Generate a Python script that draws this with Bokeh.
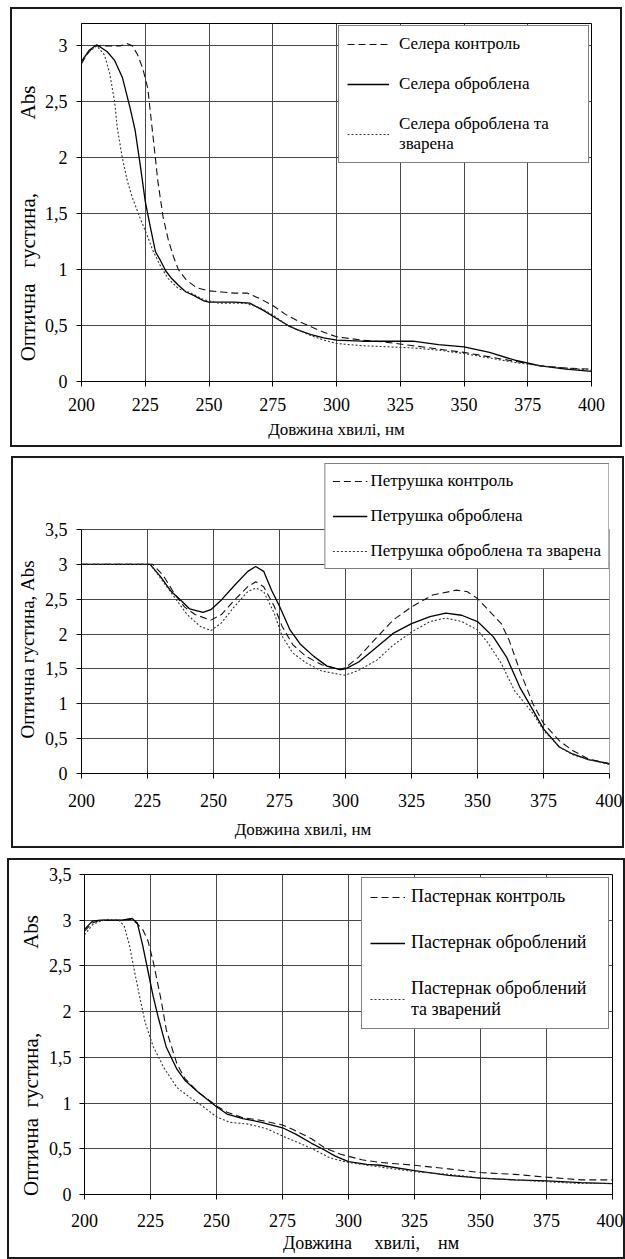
from bokeh.plotting import figure
from bokeh.models import FixedTicker, Legend, LegendItem, Range1d
from bokeh.embed import file_html
from bokeh.resources import INLINE

FONT = "Liberation Serif"
NB = "\u00a0"

# ---------------- shared axis data ----------------
x_ticks = [200, 225, 250, 275, 300, 325, 350, 375, 400]
x_tick_labels = ["200", "225", "250", "275", "300", "325", "350", "375", "400"]
y_ticks_a = [0, 0.5, 1, 1.5, 2, 2.5, 3]
y_tick_labels_a = ["0", "0,5", "1", "1,5", "2", "2,5", "3"]
y_ticks_b = [0, 0.5, 1, 1.5, 2, 2.5, 3, 3.5]
y_tick_labels_b = ["0", "0,5", "1", "1,5", "2", "2,5", "3", "3,5"]

# ---------------- panel 1: Селера ----------------
cel_labels = ["Селера контроль", "Селера оброблена", "Селера оброблена та\nзварена"]
cel_ctrl_x = [200, 202, 205, 210, 215, 218, 220, 222, 224, 226, 228, 230, 232, 234, 236, 238, 241, 245, 250,
              255, 260, 265, 270, 275, 280, 285, 290, 295, 300, 310, 320, 330, 340, 350, 360, 370, 380, 390, 400]
cel_ctrl_y = [2.84, 2.92, 3.00, 3.00, 3.00, 3.02, 3.00, 2.92, 2.80, 2.62, 2.20, 1.78, 1.47, 1.27, 1.12, 1.00, 0.91, 0.84, 0.81,
              0.80, 0.79, 0.79, 0.74, 0.68, 0.60, 0.54, 0.49, 0.44, 0.40, 0.37, 0.35, 0.32, 0.29, 0.26, 0.22, 0.18, 0.14, 0.12, 0.11]
cel_proc_x = [200, 203, 206, 210, 213, 216, 219, 221, 223, 225, 227, 229, 231, 233, 235, 238, 241, 244, 248, 250,
              255, 260, 266, 271, 276, 281, 285, 290, 295, 300, 310, 320, 330, 340, 350, 360, 370, 380, 390, 400]
cel_proc_y = [2.86, 2.96, 3.01, 2.95, 2.87, 2.72, 2.45, 2.25, 1.94, 1.61, 1.38, 1.16, 1.08, 0.99, 0.93, 0.86, 0.80, 0.77, 0.72, 0.71,
              0.71, 0.71, 0.70, 0.64, 0.57, 0.50, 0.46, 0.42, 0.39, 0.37, 0.36, 0.36, 0.36, 0.33, 0.31, 0.26, 0.19, 0.14, 0.11, 0.09]
cel_cook_x = [200, 203, 206, 209, 211, 213, 214, 216, 218, 220, 223, 226, 228, 231, 234, 238, 243, 248, 254,
              260, 264, 270, 276, 281, 285, 290, 295, 300, 310, 320, 330, 340, 350, 360, 370, 380, 390, 400]
cel_cook_y = [2.86, 2.95, 3.00, 2.92, 2.76, 2.50, 2.27, 2.00, 1.79, 1.64, 1.46, 1.29, 1.17, 1.03, 0.92, 0.83, 0.79, 0.73, 0.70,
              0.70, 0.70, 0.66, 0.58, 0.50, 0.46, 0.41, 0.37, 0.34, 0.32, 0.31, 0.30, 0.28, 0.25, 0.21, 0.17, 0.14, 0.12, 0.10]

# ---------------- panel 2: Петрушка ----------------
pet_labels = ["Петрушка контроль", "Петрушка оброблена", "Петрушка оброблена та зварена"]
pet_ctrl_x = [200, 210, 220, 227, 231, 235, 239, 243, 249, 253, 258, 263, 266, 269, 273, 276, 280, 285, 291, 298,
              300, 305, 312, 318, 325, 333, 342, 346, 350, 354, 359, 362, 366, 371, 375, 381, 386, 392, 400]
pet_ctrl_y = [3.00, 3.00, 3.00, 3.00, 2.84, 2.59, 2.39, 2.28, 2.20, 2.28, 2.49, 2.68, 2.75, 2.68, 2.40, 2.11, 1.85, 1.68, 1.56, 1.49,
              1.52, 1.67, 1.96, 2.20, 2.39, 2.56, 2.63, 2.61, 2.51, 2.35, 2.15, 1.91, 1.48, 1.00, 0.72, 0.47, 0.33, 0.21, 0.14]
pet_proc_x = [200, 210, 220, 226, 230, 234, 238, 241, 246, 249, 253, 258, 263, 266, 269, 272, 275, 279, 283, 288,
              293, 298, 300, 305, 312, 318, 325, 332, 338, 344, 350, 356, 361, 366, 371, 375, 381, 386, 392, 400]
pet_proc_y = [3.00, 3.00, 3.00, 3.00, 2.82, 2.61, 2.47, 2.36, 2.31, 2.35, 2.49, 2.70, 2.90, 2.97, 2.90, 2.63, 2.40, 2.06, 1.85, 1.68,
              1.54, 1.49, 1.50, 1.60, 1.82, 2.01, 2.15, 2.25, 2.30, 2.27, 2.18, 1.96, 1.67, 1.24, 0.91, 0.64, 0.38, 0.28, 0.20, 0.14]
pet_cook_x = [200, 210, 220, 226, 230, 235, 240, 245, 249, 253, 258, 263, 266, 269, 273, 276, 280, 285, 291,
              298, 300, 305, 312, 318, 325, 332, 338, 344, 350, 354, 359, 364, 371, 375, 381, 386, 392, 400]
pet_cook_y = [3.00, 3.00, 3.00, 3.00, 2.80, 2.54, 2.28, 2.11, 2.05, 2.16, 2.40, 2.61, 2.66, 2.61, 2.30, 1.97, 1.73, 1.59, 1.47,
              1.42, 1.41, 1.48, 1.63, 1.84, 2.03, 2.18, 2.23, 2.18, 2.06, 1.87, 1.58, 1.19, 0.86, 0.62, 0.38, 0.27, 0.20, 0.13]

# ---------------- panel 3: Пастернак ----------------
pas_labels = ["Пастернак контроль", "Пастернак оброблений", "Пастернак оброблений\nта зварений"]
pas_ctrl_x = [200, 203, 206, 210, 214, 218, 220, 222, 224, 226, 229, 231, 235, 238, 243, 250, 254, 260, 267,
              275, 279, 286, 291, 297, 305, 312, 325, 338, 350, 363, 375, 388, 400]
pas_ctrl_y = [2.88, 2.97, 3.00, 3.00, 3.00, 3.01, 2.96, 2.90, 2.78, 2.55, 2.13, 1.80, 1.43, 1.27, 1.12, 0.97, 0.90, 0.84, 0.81,
              0.76, 0.71, 0.61, 0.51, 0.44, 0.38, 0.35, 0.32, 0.28, 0.24, 0.22, 0.19, 0.16, 0.16]
pas_proc_x = [200, 203, 206, 210, 214, 218, 220, 222, 224, 226, 228, 231, 235, 238, 243, 250, 254, 260, 267,
              275, 280, 286, 290, 295, 300, 307, 312, 325, 338, 350, 363, 375, 388, 400]
pas_proc_y = [2.90, 2.99, 3.00, 3.00, 3.00, 3.02, 2.97, 2.73, 2.45, 2.17, 1.93, 1.61, 1.37, 1.25, 1.12, 0.96, 0.88, 0.83, 0.79,
              0.73, 0.66, 0.56, 0.50, 0.42, 0.36, 0.33, 0.32, 0.26, 0.21, 0.18, 0.16, 0.15, 0.13, 0.12]
pas_cook_x = [200, 203, 206, 209, 213, 215, 217, 219, 221, 223, 226, 230, 235, 240, 245, 250, 255, 262, 269,
              275, 280, 287, 293, 300, 312, 325, 338, 350, 363, 375, 388, 400]
pas_cook_y = [2.84, 2.95, 2.99, 3.01, 3.00, 2.94, 2.73, 2.43, 2.15, 1.88, 1.62, 1.39, 1.17, 1.06, 0.96, 0.85, 0.79, 0.77, 0.72,
              0.64, 0.58, 0.49, 0.40, 0.35, 0.30, 0.25, 0.22, 0.18, 0.16, 0.14, 0.12, 0.12]

x_title = "Довжина хвилі, нм"
y_title = "Оптична густина, Abs"

GRID = "#474747"
LINE_STYLES = [dict(line_dash="7 4", line_color="#111111", line_width=1.1),
               dict(line_dash="solid", line_color="#000000", line_width=1.3),
               dict(line_dash="2 2", line_color="#333333", line_width=1.1)]
PANEL_BORDER = {"border": "2px solid #1a1a1a", "box-sizing": "border-box"}


def make_panel(width, height, margin, borders, y_end, yticks, ylabels, xlabel, ylabel,
               tick_size, xl_size, yl_size, x_std, xl_std, y_std, yl_std):
    left, right, top, bottom = borders
    p = figure(width=width, height=height, margin=margin,
               x_range=Range1d(200, 400), y_range=Range1d(0, y_end),
               output_backend="svg", toolbar_location=None,
               min_border_left=left, min_border_right=right,
               min_border_top=top, min_border_bottom=bottom,
               background_fill_color="white", border_fill_color="white")
    p.styles = dict(PANEL_BORDER)
    p.outline_line_color = "black"
    p.outline_line_width = 1

    p.xaxis.ticker = FixedTicker(ticks=x_ticks)
    p.xaxis.major_label_overrides = dict(zip(x_ticks, x_tick_labels))
    p.yaxis.ticker = FixedTicker(ticks=yticks)
    p.yaxis.major_label_overrides = dict(zip(yticks, ylabels))
    p.xgrid.ticker = FixedTicker(ticks=x_ticks)
    p.ygrid.ticker = FixedTicker(ticks=yticks)
    for g in (p.xgrid[0], p.ygrid[0]):
        g.grid_line_color = GRID
        g.grid_line_width = 1

    p.xaxis.axis_label = xlabel
    p.yaxis.axis_label = ylabel
    for ax, std, lstd, lsize in ((p.xaxis[0], x_std, xl_std, xl_size), (p.yaxis[0], y_std, yl_std, yl_size)):
        ax.axis_line_color = "black"
        ax.axis_line_width = 1
        ax.major_tick_line_color = "black"
        ax.major_tick_out = 5
        ax.major_tick_in = 0
        ax.minor_tick_line_color = None
        ax.major_label_text_font = FONT
        ax.major_label_text_font_size = tick_size
        ax.major_label_text_color = "black"
        ax.major_label_standoff = std
        ax.axis_label_text_font = FONT
        ax.axis_label_text_font_size = lsize
        ax.axis_label_text_font_style = "normal"
        ax.axis_label_text_color = "black"
        ax.axis_label_standoff = lstd
    return p


def add_series(p, xs, ys):
    rs = []
    for x, y, st in zip(xs, ys, LINE_STYLES):
        rs.append(p.line(x, y, **st))
    return rs


def add_legend(p, rs, labels, font_size, pad, glyph_w, standoff, spacing, label_w, margin):
    items = [LegendItem(label=l, renderers=[r]) for l, r in zip(labels, rs)]
    leg = Legend(items=items, location="top_right", margin=margin, padding=pad,
                 label_text_font=FONT, label_text_font_size=font_size, label_text_color="black",
                 border_line_color="black", border_line_width=1,
                 background_fill_color="white", background_fill_alpha=1.0,
                 glyph_width=glyph_w, glyph_height=20, label_height=20, label_width=label_w,
                 label_standoff=standoff, spacing=spacing)
    p.add_layout(leg)


# ---------- panel 1 ----------
p1 = make_panel(612, 440, (7, 0, 0, 10), (67, 33, 14, 68), 3.2, y_ticks_a, y_tick_labels_a,
                x_title,
                "Оптична" + NB * 3 + "густина," + NB * 14 + "Abs" + NB * 8,
                "18px", "17px", "21px", 11, 6, 9, 2)
r1 = add_series(p1, [cel_ctrl_x, cel_proc_x, cel_cook_x], [cel_ctrl_y, cel_proc_y, cel_cook_y])
add_legend(p1, r1, cel_labels, "17px", 8, 42, 10, 20, 181, 2)

# ---------- panel 2 ----------
p2 = make_panel(613, 392, (9, 0, 0, 11), (64, 17, 5, 77), 4.447, y_ticks_b, y_tick_labels_b,
                x_title + NB * 20,
                y_title + NB * 13,
                "18px", "17px", "19px", 15, 10, 9, 4)
p2.xgrid.visible = False
p2.outline_line_color = None
p2.yaxis.bounds = (y_ticks_b[0], y_ticks_b[-1])
p2.segment(x0=x_ticks, y0=y_ticks_b[0], x1=x_ticks, y1=y_ticks_b[-1], line_color=GRID, line_width=1)
r2 = add_series(p2, [pet_ctrl_x, pet_proc_x, pet_cook_x], [pet_ctrl_y, pet_proc_y, pet_cook_y])
add_legend(p2, r2, pet_labels, "17px", 7, 35, 3, 15, 220, 0)

# ---------- panel 3 ----------
p3 = make_panel(618, 401, (10, 0, 0, 7), (75, 15, 14, 67), 3.5, y_ticks_b, y_tick_labels_b,
                NB * 10 + "Довжина" + NB * 5 + "хвилі," + NB * 4 + "нм",
                "Оптична" + NB * 2 + "густина," + NB * 16 + "Abs" + NB * 8,
                "18px", "18px", "21px", 14, 3, 8, 3)
r3 = add_series(p3, [pas_ctrl_x, pas_proc_x, pas_cook_x], [pas_ctrl_y, pas_proc_y, pas_cook_y])
add_legend(p3, r3, pas_labels, "18px", 8, 35, 6, 25, 189, 3)

open("out.html", "w").write(file_html([p1, p2, p3], INLINE))
